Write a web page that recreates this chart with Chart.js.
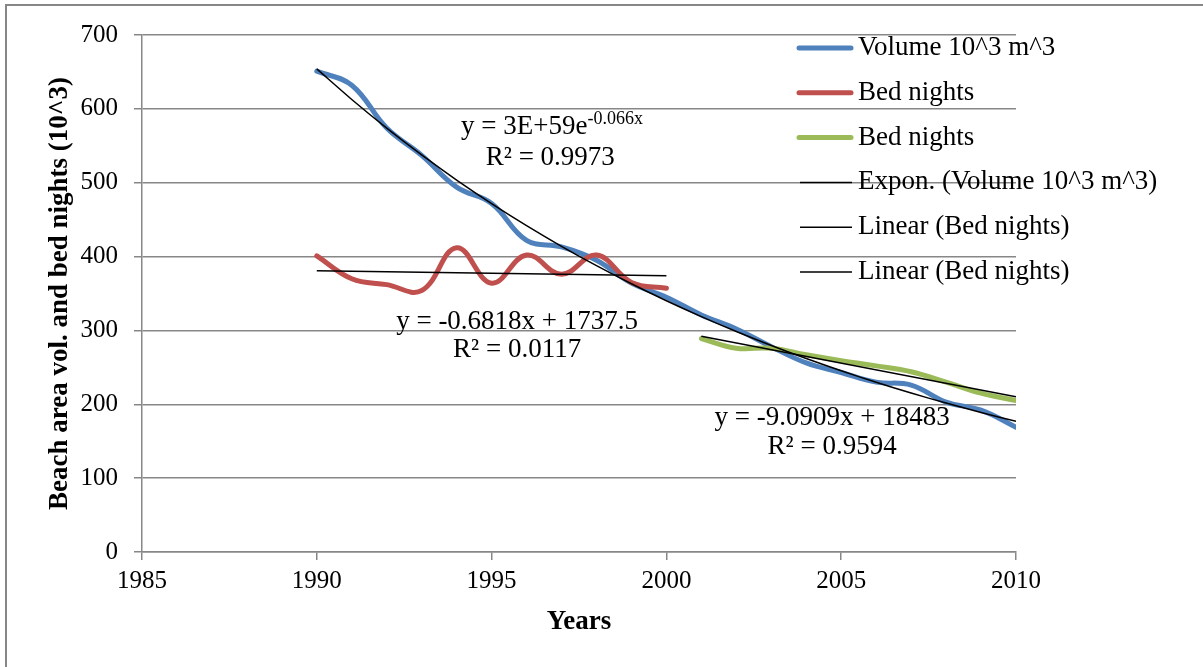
<!DOCTYPE html>
<html>
<head>
<meta charset="utf-8">
<title>Beach area volume and bed nights</title>
<script src="https://cdn.jsdelivr.net/npm/chart.js@4.4.1/dist/chart.umd.min.js"></script>
<style>
  html, body { margin: 0; padding: 0; background: #fff; }
  #chart { display: block; }
</style>
</head>
<body>
<canvas id="chart" width="1203" height="667"></canvas>
<script>
// yearly values
const volumeYears = [1990, 1991, 1992, 1993, 1994, 1995, 1996, 1997, 1998, 1999, 2000,
                     2001, 2002, 2003, 2004, 2005, 2006, 2007, 2008, 2009, 2010];
const volume = [651, 632, 574, 537, 494, 472, 422, 413, 395, 364, 345,
                321, 302, 278, 256, 243, 230, 226, 203, 192, 169];

const bedYearsA = [1990, 1991, 1992, 1993, 1994, 1995, 1996, 1997, 1998, 1999, 2000];
const bedNightsA = [401, 370, 362, 354, 412, 364, 402, 376, 402, 365, 357];

const bedYearsB = [2001, 2002, 2003, 2004, 2005, 2006, 2007, 2008, 2009, 2010];
const bedNightsB = [289, 276, 276, 267, 259, 252, 244, 230, 215, 205];

// linear trend coefficients [slope, intercept]
const trendA = [-0.6818, 1737.5];
const trendB = [-9.0909, 18483];

const seriesNames = ['Volume 10^3 m^3', 'Bed nights', 'Bed nights',
                     'Expon. (Volume 10^3 m^3)', 'Linear (Bed nights)', 'Linear (Bed nights)'];

const FONT = "'Liberation Serif', 'Times New Roman', serif";
const BLUE = '#4f81bd', RED = '#c0504d', GREEN = '#9bbb59';
const GRID = '#878787';

function zip(xs, ys) {
    return xs.map((x, i) => ({ x: x, y: ys[i] }));
}

// exponential fit y = a*e^(b*x) on the volume series
function expFit(xs, ys) {
    const n = xs.length;
    const ly = ys.map(v => Math.log(v));
    const mx = xs.reduce((s, v) => s + v, 0) / n;
    const my = ly.reduce((s, v) => s + v, 0) / n;
    let sxy = 0, sxx = 0;
    xs.forEach((x, i) => { sxy += (x - mx) * (ly[i] - my); sxx += (x - mx) * (x - mx); });
    const b = sxy / sxx;
    const lnA = my - b * mx;
    return xs.map(x => ({ x: x, y: Math.exp(lnA + b * x) }));
}

function linearLine(xs, coef) {
    const first = xs[0], last = xs[xs.length - 1];
    return [
        { x: first, y: coef[0] * first + coef[1] },
        { x: last, y: coef[0] * last + coef[1] }
    ];
}

// equation labels anchored in data units
const equations = [
    { x: 1996.73, y: 575, main: 'y = 3E+59e', sup: '-0.066x' },
    { x: 1996.68, y: 533, main: 'R² = 0.9973' },
    { x: 1995.73, y: 311, main: 'y = -0.6818x + 1737.5' },
    { x: 1995.73, y: 273, main: 'R² = 0.0117' },
    { x: 2004.74, y: 181, main: 'y = -9.0909x + 18483' },
    { x: 2004.74, y: 142, main: 'R² = 0.9594' }
];

const equationPlugin = {
    id: 'equations',
    afterDatasetsDraw(chart) {
        const ctx = chart.ctx;
        const xs = chart.scales.x, ys = chart.scales.y;
        ctx.save();
        ctx.fillStyle = '#000';
        ctx.textBaseline = 'middle';
        equations.forEach(eq => {
            const px = xs.getPixelForValue(eq.x);
            const py = ys.getPixelForValue(eq.y);
            ctx.font = '27px ' + FONT;
            const w1 = ctx.measureText(eq.main).width;
            let w2 = 0;
            if (eq.sup) {
                ctx.font = '18px ' + FONT;
                w2 = ctx.measureText(eq.sup).width;
            }
            const left = px - (w1 + w2) / 2;
            ctx.font = '27px ' + FONT;
            ctx.textAlign = 'left';
            ctx.fillText(eq.main, left, py);
            if (eq.sup) {
                ctx.font = '18px ' + FONT;
                ctx.fillText(eq.sup, left + w1, py - 8);
            }
        });
        ctx.restore();
    }
};

// legend sitting over the right part of the plot
const legendPlugin = {
    id: 'sideLegend',
    afterDraw(chart) {
        const ctx = chart.ctx;
        const top = 48, step = 44.8;
        ctx.save();
        ctx.font = '27px ' + FONT;
        ctx.fillStyle = '#000';
        ctx.textBaseline = 'middle';
        ctx.textAlign = 'left';
        const ordered = chart.data.datasets.slice().sort((a, b) => a.legendIndex - b.legendIndex);
        ordered.forEach((ds, i) => {
            const y = top + i * step;
            ctx.beginPath();
            ctx.strokeStyle = ds.borderColor;
            ctx.lineWidth = ds.borderWidth;
            ctx.lineCap = ds.borderWidth > 2 ? 'round' : 'butt';
            if (ds.borderWidth > 2) {
                ctx.moveTo(799, y); ctx.lineTo(851, y);
            } else {
                ctx.moveTo(800, y); ctx.lineTo(852, y);
            }
            ctx.stroke();
            ctx.fillText(ds.label, 858, y);
        });
        ctx.restore();
    }
};

// thin frame on the top and left edges
const framePlugin = {
    id: 'frame',
    beforeDraw(chart) {
        const ctx = chart.ctx;
        ctx.save();
        ctx.fillStyle = '#fff';
        ctx.fillRect(0, 0, chart.width, chart.height);
        ctx.strokeStyle = GRID;
        ctx.lineWidth = 2;
        ctx.beginPath();
        ctx.moveTo(6, chart.height);
        ctx.lineTo(6, 5);
        ctx.lineTo(chart.width, 5);
        ctx.stroke();
        ctx.restore();
    }
};

const ctx = document.getElementById('chart').getContext('2d');
new Chart(ctx, {
    type: 'line',
    data: {
        datasets: [
            {
                label: seriesNames[3], legendIndex: 3, order: 0,
                data: expFit(volumeYears, volume),
                borderColor: '#000', borderWidth: 1.5, tension: 0.3
            },
            {
                label: seriesNames[4], legendIndex: 4, order: 0,
                data: linearLine(bedYearsA, trendA),
                borderColor: '#000', borderWidth: 1.5, tension: 0
            },
            {
                label: seriesNames[5], legendIndex: 5, order: 0,
                data: linearLine(bedYearsB, trendB),
                borderColor: '#000', borderWidth: 1.5, tension: 0
            },
            {
                label: seriesNames[2], legendIndex: 2, order: 1,
                data: zip(bedYearsB, bedNightsB),
                borderColor: GREEN, borderWidth: 5, tension: 0.4,
                borderCapStyle: 'round', borderJoinStyle: 'round'
            },
            {
                label: seriesNames[1], legendIndex: 1, order: 2,
                data: zip(bedYearsA, bedNightsA),
                borderColor: RED, borderWidth: 5, tension: 0.4,
                borderCapStyle: 'round', borderJoinStyle: 'round'
            },
            {
                label: seriesNames[0], legendIndex: 0, order: 3,
                data: zip(volumeYears, volume),
                borderColor: BLUE, borderWidth: 5, tension: 0.4,
                borderCapStyle: 'round', borderJoinStyle: 'round'
            }
        ]
    },
    options: {
        responsive: false,
        animation: false,
        elements: { point: { radius: 0, hoverRadius: 0 } },
        layout: { padding: { top: 35, right: 187, bottom: 0, left: 0 } },
        plugins: {
            legend: { display: false },
            tooltip: { enabled: false }
        },
        scales: {
            x: {
                type: 'linear',
                min: 1985,
                max: 2010,
                afterFit: scale => { scale.height = 115; },
                ticks: {
                    stepSize: 5,
                    padding: 6,
                    color: '#000',
                    font: { family: FONT, size: 25 },
                    maxRotation: 0,
                    callback: v => String(v)
                },
                grid: { drawOnChartArea: false, color: GRID, lineWidth: 1.5, tickLength: 8 },
                border: { color: GRID, width: 1.5 },
                title: {
                    display: true,
                    text: 'Years',
                    color: '#000',
                    font: { family: FONT, size: 27, weight: 'bold' },
                    padding: { top: 0, bottom: 29 }
                }
            },
            y: {
                min: 0,
                max: 700,
                afterFit: scale => { scale.width = 142; },
                ticks: {
                    stepSize: 100,
                    padding: 16,
                    color: '#000',
                    font: { family: FONT, size: 25 }
                },
                grid: { color: GRID, lineWidth: 1.5, tickLength: 8 },
                border: { color: GRID, width: 1.5 },
                title: {
                    display: true,
                    text: 'Beach area vol. and bed nights (10^3)',
                    color: '#000',
                    font: { family: FONT, size: 27, weight: 'bold' },
                    padding: { top: 44, bottom: 0 }
                }
            }
        }
    },
    plugins: [framePlugin, equationPlugin, legendPlugin]
});
</script>
</body>
</html>
